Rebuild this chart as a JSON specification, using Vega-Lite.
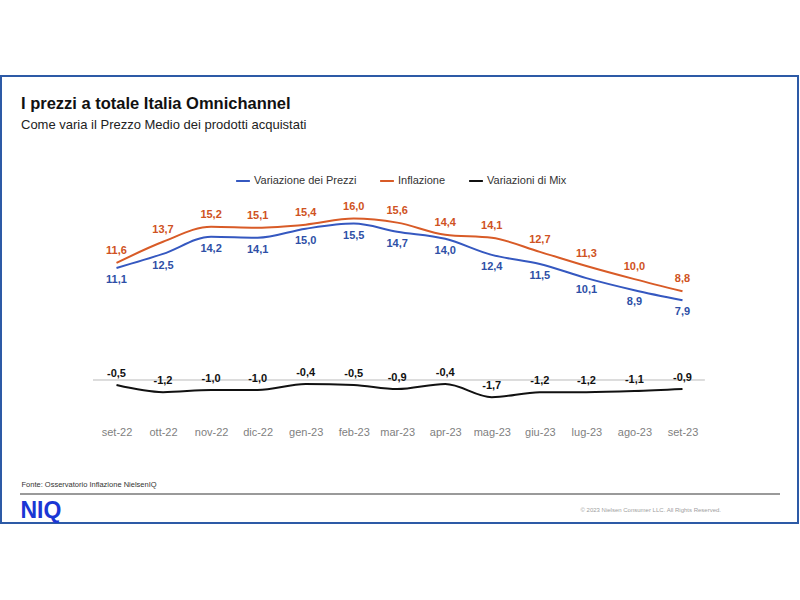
{
  "$schema": "https://vega.github.io/schema/vega-lite/v6.json",
  "autosize": {"type": "none"},
  "width": 797,
  "height": 447,
  "padding": {"left": 1, "top": 76, "right": 2, "bottom": 77},
  "background": "white",
  "config": {
    "font": "Liberation Sans",
    "view": {"stroke": "#2d5aa6", "strokeWidth": 2},
    "locale": {
      "number": {"decimal": ",", "thousands": ".", "grouping": [3], "currency": ["€", ""], "minus": "-"},
      "time": {
        "dateTime": "%A %e %B %Y, %X", "date": "%d/%m/%Y", "time": "%H:%M:%S", "periods": ["AM", "PM"],
        "days": ["domenica", "lunedì", "martedì", "mercoledì", "giovedì", "venerdì", "sabato"],
        "shortDays": ["dom", "lun", "mar", "mer", "gio", "ven", "sab"],
        "months": ["gennaio", "febbraio", "marzo", "aprile", "maggio", "giugno", "luglio", "agosto", "settembre", "ottobre", "novembre", "dicembre"],
        "shortMonths": ["gen", "feb", "mar", "apr", "mag", "giu", "lug", "ago", "set", "ott", "nov", "dic"]
      }
    }
  },
  "title": {
    "text": "I prezzi a totale Italia Omnichannel",
    "subtitle": "Come varia il Prezzo Medio dei prodotti acquistati",
    "anchor": "start",
    "frame": "group",
    "offset": -56,
    "dx": 20,
    "font": "Liberation Sans",
    "fontSize": 16.5,
    "fontWeight": "bold",
    "color": "#111111",
    "subtitleFont": "Liberation Sans",
    "subtitleFontSize": 13,
    "subtitleColor": "#222222",
    "subtitlePadding": 7
  },
  "data": {
    "values": [
      {"month": "2022-09-01", "series": "Variazione dei Prezzi", "value": 11.1},
      {"month": "2022-10-01", "series": "Variazione dei Prezzi", "value": 12.5},
      {"month": "2022-11-01", "series": "Variazione dei Prezzi", "value": 14.2},
      {"month": "2022-12-01", "series": "Variazione dei Prezzi", "value": 14.1},
      {"month": "2023-01-01", "series": "Variazione dei Prezzi", "value": 15.0},
      {"month": "2023-02-01", "series": "Variazione dei Prezzi", "value": 15.5},
      {"month": "2023-03-01", "series": "Variazione dei Prezzi", "value": 14.7},
      {"month": "2023-04-01", "series": "Variazione dei Prezzi", "value": 14.0},
      {"month": "2023-05-01", "series": "Variazione dei Prezzi", "value": 12.4},
      {"month": "2023-06-01", "series": "Variazione dei Prezzi", "value": 11.5},
      {"month": "2023-07-01", "series": "Variazione dei Prezzi", "value": 10.1},
      {"month": "2023-08-01", "series": "Variazione dei Prezzi", "value": 8.9},
      {"month": "2023-09-01", "series": "Variazione dei Prezzi", "value": 7.9},
      {"month": "2022-09-01", "series": "Inflazione", "value": 11.6},
      {"month": "2022-10-01", "series": "Inflazione", "value": 13.7},
      {"month": "2022-11-01", "series": "Inflazione", "value": 15.2},
      {"month": "2022-12-01", "series": "Inflazione", "value": 15.1},
      {"month": "2023-01-01", "series": "Inflazione", "value": 15.4},
      {"month": "2023-02-01", "series": "Inflazione", "value": 16.0},
      {"month": "2023-03-01", "series": "Inflazione", "value": 15.6},
      {"month": "2023-04-01", "series": "Inflazione", "value": 14.4},
      {"month": "2023-05-01", "series": "Inflazione", "value": 14.1},
      {"month": "2023-06-01", "series": "Inflazione", "value": 12.7},
      {"month": "2023-07-01", "series": "Inflazione", "value": 11.3},
      {"month": "2023-08-01", "series": "Inflazione", "value": 10.0},
      {"month": "2023-09-01", "series": "Inflazione", "value": 8.8},
      {"month": "2022-09-01", "series": "Variazioni di Mix", "value": -0.5},
      {"month": "2022-10-01", "series": "Variazioni di Mix", "value": -1.2},
      {"month": "2022-11-01", "series": "Variazioni di Mix", "value": -1.0},
      {"month": "2022-12-01", "series": "Variazioni di Mix", "value": -1.0},
      {"month": "2023-01-01", "series": "Variazioni di Mix", "value": -0.4},
      {"month": "2023-02-01", "series": "Variazioni di Mix", "value": -0.5},
      {"month": "2023-03-01", "series": "Variazioni di Mix", "value": -0.9},
      {"month": "2023-04-01", "series": "Variazioni di Mix", "value": -0.4},
      {"month": "2023-05-01", "series": "Variazioni di Mix", "value": -1.7},
      {"month": "2023-06-01", "series": "Variazioni di Mix", "value": -1.2},
      {"month": "2023-07-01", "series": "Variazioni di Mix", "value": -1.2},
      {"month": "2023-08-01", "series": "Variazioni di Mix", "value": -1.1},
      {"month": "2023-09-01", "series": "Variazioni di Mix", "value": -0.9}
    ]
  },
  "encoding": {
    "x": {
      "field": "month", "type": "temporal", "axis": null,
      "scale": {
        "type": "utc", "nice": false,
        "domain": [
          {"year": 2022, "month": 6, "date": 18, "hours": 12, "minutes": 28, "utc": true},
          {"year": 2023, "month": 11, "date": 14, "hours": 11, "minutes": 31, "utc": true}
        ]
      }
    }
  },
  "resolve": {"axis": {"x": "independent", "y": "independent"}},
  "layer": [
    {
      "mark": {"type": "line", "interpolate": "monotone", "strokeWidth": 2},
      "encoding": {
        "x": {
          "field": "month", "type": "temporal",
          "scale": {
            "type": "utc", "nice": false,
            "domain": [
              {"year": 2022, "month": 6, "date": 18, "hours": 12, "minutes": 28, "utc": true},
              {"year": 2023, "month": 11, "date": 14, "hours": 11, "minutes": 31, "utc": true}
            ]
          },
          "axis": {
            "orient": "bottom", "offset": -91, "domain": false, "ticks": false, "tickSize": 0, "grid": false,
            "values": [
              {"year": 2022, "month": 9, "date": 1, "utc": true},
              {"year": 2022, "month": 10, "date": 1, "utc": true},
              {"year": 2022, "month": 11, "date": 1, "utc": true},
              {"year": 2022, "month": 12, "date": 1, "utc": true},
              {"year": 2023, "month": 1, "date": 1, "utc": true},
              {"year": 2023, "month": 2, "date": 1, "utc": true},
              {"year": 2023, "month": 3, "date": 1, "utc": true},
              {"year": 2023, "month": 4, "date": 1, "utc": true},
              {"year": 2023, "month": 5, "date": 1, "utc": true},
              {"year": 2023, "month": 6, "date": 1, "utc": true},
              {"year": 2023, "month": 7, "date": 1, "utc": true},
              {"year": 2023, "month": 8, "date": 1, "utc": true},
              {"year": 2023, "month": 9, "date": 1, "utc": true}
            ],
            "labelExpr": "utcFormat(datum.value, '%b-%y')",
            "labelPadding": 0, "labelBaseline": "middle", "labelAngle": 0, "labelOverlap": false, "labelFlush": false,
            "labelFont": "Liberation Sans", "labelFontSize": 11, "labelColor": "#7f7f7f",
            "title": "Fonte: Osservatorio Inflazione NielsenIQ",
            "titleX": 20, "titleY": 52, "titleAlign": "left", "titleBaseline": "middle", "titleAnchor": "start",
            "titleFont": "Liberation Sans", "titleFontSize": 7.5, "titleFontWeight": "normal", "titleColor": "#333333"
          }
        },
        "y": {
          "field": "value", "type": "quantitative",
          "scale": {"domain": [-14.17, 30.13], "nice": false, "zero": false},
          "axis": {
            "orient": "left", "labels": false, "ticks": false, "domain": false, "grid": false,
            "title": "NIQ", "titleAngle": 0, "titleX": 19, "titleY": 434, "titleAlign": "left", "titleBaseline": "middle",
            "titleFont": "Liberation Sans", "titleFontSize": 23, "titleFontWeight": 900, "titleColor": "#1b36d4"
          }
        },
        "color": {
          "field": "series", "type": "nominal",
          "scale": {"domain": ["Variazione dei Prezzi", "Inflazione", "Variazioni di Mix"], "range": ["#3558c0", "#d85b27", "#111111"]},
          "legend": {
            "orient": "none", "legendX": 234, "legendY": 97, "direction": "horizontal", "title": null,
            "symbolType": "stroke", "symbolStrokeWidth": 2, "symbolSize": 190,
            "labelFont": "Liberation Sans", "labelFontSize": 11, "labelColor": "#333333",
            "labelOffset": 3, "columnPadding": 19
          }
        }
      }
    },
    {
      "mark": {"type": "rule", "color": "#dcdcdc", "strokeWidth": 1},
      "encoding": {
        "x": {"datum": {"year": 2022, "month": 8, "date": 17, "utc": true}, "type": "temporal", "axis": null},
        "x2": {"datum": {"year": 2023, "month": 9, "date": 15, "utc": true}},
        "y": {"datum": 0, "type": "quantitative", "axis": null}
      }
    },
    {
      "transform": [{"filter": "datum.series === 'Variazione dei Prezzi'"}],
      "mark": {"type": "text", "dy": 12, "fontSize": 11, "fontWeight": "bold", "font": "Liberation Sans", "baseline": "middle"},
      "encoding": {
        "y": {"field": "value", "type": "quantitative", "axis": null},
        "text": {"field": "value", "type": "quantitative", "format": ".1f"},
        "color": {"value": "#2e4fa6"}
      }
    },
    {
      "transform": [{"filter": "datum.series === 'Inflazione'"}],
      "mark": {"type": "text", "dy": -12, "fontSize": 11, "fontWeight": "bold", "font": "Liberation Sans", "baseline": "middle"},
      "encoding": {
        "y": {"field": "value", "type": "quantitative", "axis": null},
        "text": {"field": "value", "type": "quantitative", "format": ".1f"},
        "color": {"value": "#cf5222"}
      }
    },
    {
      "transform": [{"filter": "datum.series === 'Variazioni di Mix'"}],
      "mark": {"type": "text", "dy": -11, "fontSize": 11, "fontWeight": "bold", "font": "Liberation Sans", "baseline": "middle"},
      "encoding": {
        "y": {"field": "value", "type": "quantitative", "axis": null},
        "text": {"field": "value", "type": "quantitative", "format": ".1f"},
        "color": {"value": "#111111"}
      }
    },
    {
      "mark": {"type": "rule", "color": "#9a9a9a", "strokeWidth": 1.5},
      "encoding": {
        "x": {"datum": {"year": 2022, "month": 6, "date": 30, "hours": 19, "utc": true}, "type": "temporal", "axis": null},
        "x2": {"datum": {"year": 2023, "month": 11, "date": 2, "hours": 21, "utc": true}},
        "y": {
          "datum": -11.3, "type": "quantitative",
          "axis": {
            "orient": "right", "labels": false, "ticks": false, "domain": false, "grid": false,
            "title": "© 2023 Nielsen Consumer LLC. All Rights Reserved.",
            "titleAngle": 0, "titleX": -218, "titleY": 433, "titleAlign": "left", "titleBaseline": "middle",
            "titleFont": "Liberation Sans", "titleFontSize": 6, "titleFontWeight": "normal", "titleColor": "#a0a0a0"
          }
        }
      }
    }
  ]
}
